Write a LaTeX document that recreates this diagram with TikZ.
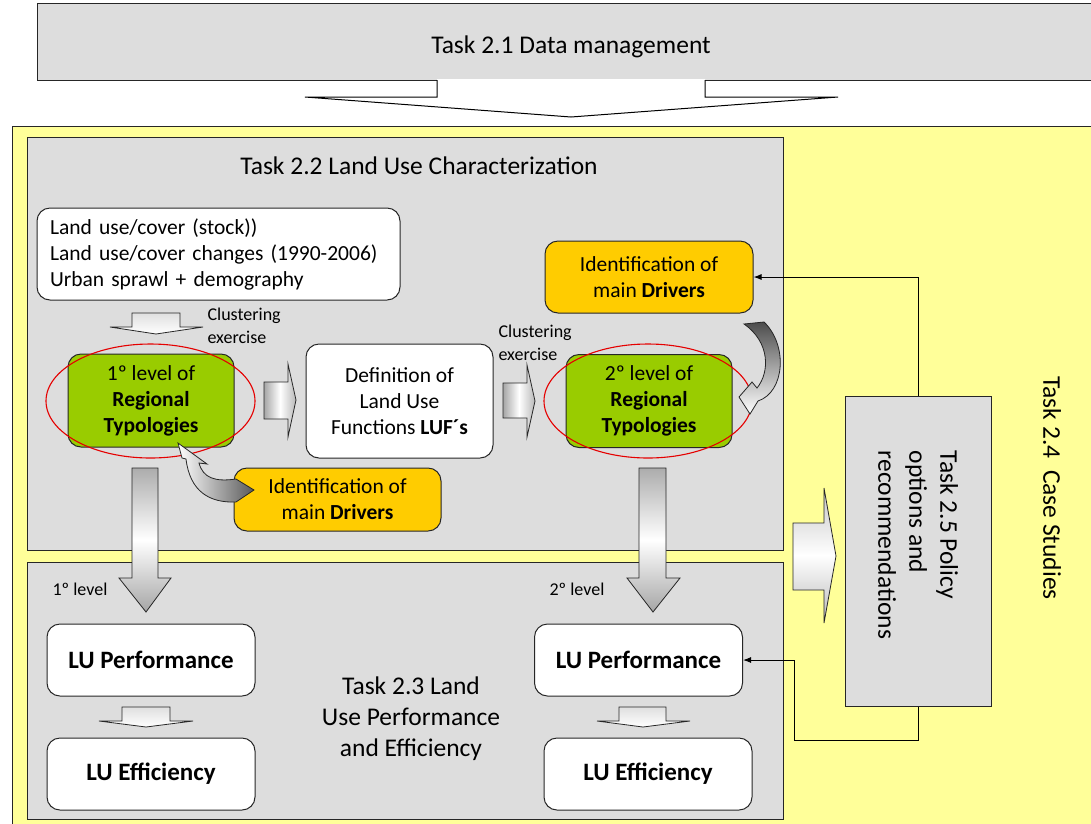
\documentclass[tikz,border=0pt]{standalone}
\usepackage{fontspec}
\setmainfont{Carlito}
\usepackage{tikz}
\usetikzlibrary{arrows.meta,calc}
\definecolor{boxgray}{HTML}{DDDDDD}
\definecolor{caseyellow}{HTML}{FFFF99}
\definecolor{typgreen}{HTML}{99CC00}
\definecolor{drvorange}{HTML}{FFCC00}
\tikzset{
  tasktitle/.style={font=\fontsize{25.5}{31}\selectfont, align=center},
  boxtext/.style={font=\fontsize{21.5}{26}\selectfont, align=center},
  smalltext/.style={font=\fontsize{18}{22.5}\selectfont, align=left},
  panel/.style={draw=black!85, line width=1pt},
  roundbox/.style={draw=black!85, line width=1pt, rounded corners=13pt, inner sep=0pt, boxtext},
  typbox/.style={roundbox, fill=typgreen, minimum width=166pt, minimum height=93pt},
  drvbox/.style={roundbox, fill=drvorange},
  lubox/.style={roundbox, fill=white, minimum width=208pt, minimum height=72pt, font=\fontsize{25}{30}\selectfont\bfseries},
  ring/.style={draw=red!90!black, line width=1.1pt},
  blockarrow/.style={draw=black!85, line width=0.8pt},
  downshade/.style={top color=gray!65, bottom color=gray!70, middle color=white},
  rightshade/.style={left color=gray!70, right color=gray!55, middle color=white},
  conn/.style={draw=black, line width=1pt, -{Latex[length=8pt,width=6pt]}}
}

\begin{document}
\begin{tikzpicture}[x=1pt,y=-1pt]
\useasboundingbox (0,0) rectangle (1091,823);
\clip (0,0) rectangle (1091,823);

\fill[white] (0,0) rectangle (1091,823);
\draw[panel, fill=boxgray] (37,3) rectangle (1100,80);
\node[tasktitle] (datamgmt) at (571,47) {Task 2.1 Data management};
\fill[white] (437,79) -- (437,97) -- (305,97) -- (571,117) -- (838,97) -- (705,97) -- (705,79) -- cycle;
\draw[line width=1pt] (437,80) -- (437,97) -- (305,97) -- (571,117) -- (838,97) -- (705,97) -- (705,80);

\draw[panel, fill=caseyellow] (12,126) rectangle (1100,830);
\draw[panel, fill=boxgray] (27,137) rectangle (783,550);
\draw[panel, fill=boxgray] (27,562) rectangle (783,819);
\node[tasktitle] (charact) at (419,166) {Task 2.2 Land Use Characterization};
\node[tasktitle] (casestudies) at (1052,488) [rotate=-90] {Task 2.4\ \ Case Studies};

\node[roundbox, fill=white, minimum height=92pt, text width=337pt, inner xsep=13pt, align=left] (inputs) at (218.5,254)
  {Land use/cover (stock))\\Land use/cover changes (1990-2006)\\Urban sprawl + demography};
\shade[blockarrow, top color=gray!25, bottom color=white] (132,313) -- (180,313) -- (180,327) -- (203,327) -- (156,334) -- (110,327) -- (132,327) -- cycle;
\node[smalltext, anchor=west] (clust1) at (204,326) {Clustering\\exercise};

\node[typbox] (typ1) at (151,400.5) {1º level of\\\textbf{Regional}\\\textbf{Typologies}};
\draw[ring] (150.5,401) ellipse (104.5 and 57);
\shade[blockarrow, rightshade] (264,382) -- (288,382) -- (288,364) -- (296,400) -- (288,437) -- (288,419) -- (264,419) -- cycle;
\node[roundbox, fill=white, minimum width=187pt, minimum height=114pt] (luf) at (399.5,401) {Definition of\\Land Use\\Functions \textbf{LUF´s}};
\node[smalltext, anchor=west] (clust2) at (495,343) {Clustering\\exercise};
\shade[blockarrow, rightshade] (503,383) -- (527,383) -- (527,365) -- (535,401) -- (527,437) -- (527,418) -- (503,418) -- cycle;
\node[typbox] (typ2) at (649,401) {2º level of\\\textbf{Regional}\\\textbf{Typologies}};
\draw[ring] (648,401) ellipse (104 and 57);

\node[drvbox, minimum width=208pt, minimum height=72pt] (drivers2) at (649,277) {Identification of\\main \textbf{Drivers}};
\shade[blockarrow, top color=black!70, bottom color=white] (744,324) -- (764,322) .. controls (788,345) and (785,392) .. (758,401) -- (750,414) -- (739,397) -- (752,382) -- (757,388) .. controls (770,372) and (770,342) .. (744,324) -- cycle;

\node[drvbox, minimum width=207pt, minimum height=63pt] (drivers1) at (337.5,499.5) {Identification of\\main \textbf{Drivers}};
\shade[blockarrow, left color=white, right color=black!65] (178,443) -- (207,464) -- (199,463) .. controls (203,478) and (215,482) .. (236,479) -- (254,490) -- (236,502) .. controls (210,503) and (190,492) .. (186,459) -- (182,458) -- cycle;

\shade[blockarrow, downshade] (132,468) -- (158,468) -- (158,578) -- (171,578) -- (146,612) -- (119,578) -- (132,578) -- cycle;
\shade[blockarrow, downshade] (639,468) -- (666,468) -- (666,578) -- (680,578) -- (653,612) -- (627,578) -- (639,578) -- cycle;
\node[smalltext, anchor=west] (lev1) at (49,589) {1º level};
\node[smalltext, anchor=west] (lev2) at (546,589) {2º level};

\node[lubox] (perf1) at (151,660) {LU Performance};
\shade[blockarrow, top color=gray!25, bottom color=white] (122,707) -- (170,707) -- (170,721) -- (193,721) -- (146,727) -- (99,721) -- (122,721) -- cycle;
\node[lubox] (eff1) at (151,774) {LU Efficiency};
\node[lubox] (perf2) at (638.5,660) {LU Performance};
\shade[blockarrow, top color=gray!25, bottom color=white] (619,707) -- (666,707) -- (666,721) -- (690,721) -- (643,727) -- (597,721) -- (619,721) -- cycle;
\node[lubox] (eff2) at (648,774) {LU Efficiency};
\node[tasktitle] (perfeff) at (411,719) {Task 2.3 Land\\Use Performance\\and Efficiency};

\node[panel, fill=boxgray, minimum width=146pt, minimum height=310pt] (policy) at (918,551) {};
\node[tasktitle, rotate=-90, align=left] (policytext) at (918,545) {Task 2.5 Policy\\options and\\recommendations};
\shade[blockarrow, top color=gray!45, bottom color=gray!55, middle color=white] (793,523) -- (824,523) -- (824,488) -- (836,556) -- (824,623) -- (824,590) -- (793,590) -- cycle;

\coordinate (loopdown) at (918,740);
\coordinate (loopup) at (794,660);
\draw[conn] (policy.north) |- (drivers2.east);
\draw[conn] (policy.south) -- (loopdown) -| (loopup) -- (perf2.east);
\end{tikzpicture}
\end{document}
